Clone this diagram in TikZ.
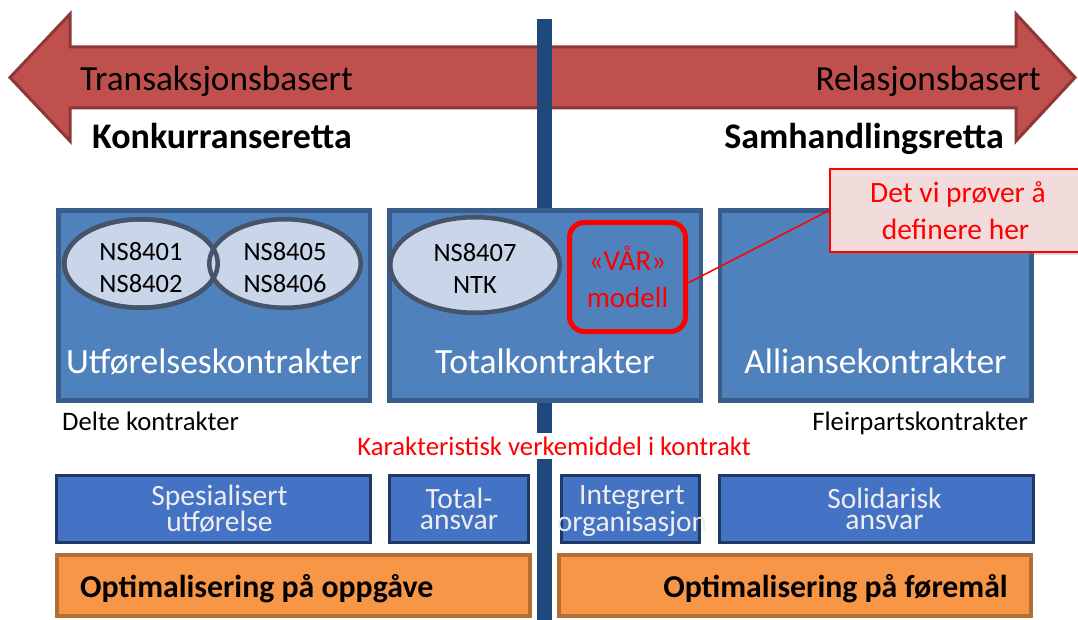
\documentclass[tikz,border=0pt]{standalone}
\usepackage{fontspec}
\setmainfont{Carlito}
\usetikzlibrary{shapes.geometric,calc,shadows}
\definecolor{arrowfill}{HTML}{C0504D}
\definecolor{arrowline}{HTML}{8C3836}
\definecolor{barcol}{HTML}{1F497D}
\definecolor{boxfill}{HTML}{4F81BD}
\definecolor{boxline}{HTML}{385D8A}
\definecolor{ellfill}{HTML}{C9D5E8}
\definecolor{ellline}{HTML}{46546A}
\definecolor{vred}{HTML}{FF0000}
\definecolor{callfill}{HTML}{F2DCDB}
\definecolor{smallfill}{HTML}{4472C4}
\definecolor{smallline}{HTML}{1F3864}
\definecolor{smalltext}{HTML}{EEEEEE}
\definecolor{orfill}{HTML}{F79646}
\definecolor{orline}{HTML}{B66D31}
\newcommand\fsz[2]{\fontsize{#1pt}{#2pt}\selectfont}
\begin{document}
\begin{tikzpicture}[x=1pt,y=-1pt,
  bigbox/.style={draw=boxline,fill=boxfill,line width=4.5pt,minimum width=311.5pt,minimum height=189.5pt,inner sep=0pt},
  title/.style={text=white,font=\fsz{35.5}{42},inner sep=0pt},
  ell/.style={ellipse,draw=ellline,fill=ellfill,line width=4.5pt,inner sep=0pt},
  elltext/.style={align=center,font=\fsz{26.5}{32},inner sep=0pt},
  smallbox/.style={draw=smallline,fill=smallfill,line width=3pt,minimum height=67pt,inner sep=0pt,align=center,text=smalltext,font=\fsz{29.5}{21}},
  orbox/.style={draw=orline,fill=orfill,line width=4pt,minimum height=61pt,minimum width=472pt,inner sep=0pt},
  ortext/.style={font=\bfseries\fsz{31.8}{38},inner sep=0pt},
  arrtext/.style={font=\fsz{35.3}{42},inner sep=0pt},
  sidetext/.style={font=\bfseries\fsz{36}{42},inner sep=0pt},
  note/.style={font=\fsz{26.7}{30},inner sep=0pt}
]
\useasboundingbox (0,0) rectangle (1078,620);
% double arrow
\draw[line width=3pt,draw=arrowline,fill=arrowfill,line join=miter]
  (10,77.5) -- (70,14) -- (70,47) -- (1016,47) -- (1016,14) -- (1075,77.5)
  -- (1016,141) -- (1016,108) -- (70,108) -- (70,141) -- cycle;
% vertical bar
\fill[barcol] (537,19) rectangle (552,620);
\node[arrtext,anchor=base west] (trans) at (80,91) {Transaksjonsbasert};
\node[arrtext,anchor=base east] (rel) at (1041,91) {Relasjonsbasert};
\node[sidetext,anchor=base west] (konk) at (92,149) {Konkurranseretta};
\node[sidetext,anchor=base east] (samh) at (1004,149) {Samhandlingsretta};
% big boxes
\node[bigbox] (b1) at (214,305.5) {};
\node[bigbox] (b2) at (545,305.5) {};
\node[bigbox] (b3) at (875.5,305.5) {};
\node[title,anchor=base] (t1) at (214,373) {Utførelseskontrakter};
\node[title,anchor=base] (t2) at (545,373) {Totalkontrakter};
\node[title,anchor=base] (t3) at (875.5,373) {Alliansekontrakter};
% ellipses
\node[ell,minimum width=153.5pt,minimum height=88.5pt] (e1) at (141,263.5) {};
\node[ell,minimum width=151.5pt,minimum height=88.5pt] (e2) at (285,263.5) {};
\draw[ellline,line width=4.5pt] (e1.center) ellipse [x radius=76.75,y radius=44.25];
\node[ell,minimum width=169.5pt,minimum height=95.5pt] (e3) at (475,265) {};
\node[elltext] (e1t) at (141,268) {NS8401\\NS8402};
\node[elltext] (e2t) at (285,268) {NS8405\\NS8406};
\node[elltext] (e3t) at (475,268) {NS8407\\NTK};
% VAR modell
\node[draw=vred,line width=5pt,rounded corners=15pt,minimum width=116pt,minimum height=109pt,
  inner sep=0pt,align=center,text=vred,font=\fsz{29}{37}] (vaar) at (627.5,277) {«VÅR»\\modell};
% callout
\node[draw=vred,fill=callfill,line width=2pt,minimum width=251pt,minimum height=83pt,inner sep=0pt,
  align=center,text=vred,font=\fsz{29.5}{37},
  drop shadow={opacity=0.3,shadow xshift=2pt,shadow yshift=-3pt}] (call) at (955.5,210.5)
  {\hspace*{5pt}Det vi prøver å\\definere her};
\draw[vred,line width=1.5pt] (call.west) -- ($(vaar.east)+(0,6)$);
% notes
\node[note,anchor=base west] (delte) at (62,430) {Delte kontrakter};
\node[note,anchor=base east] (fleir) at (1028,430) {Fleirpartskontrakter};
\node[note,text=vred,fill=white,inner sep=4pt] (kar) at (554,446) {Karakteristisk verkemiddel i kontrakt};
% small boxes
\node[smallbox,minimum width=314pt] (sA) at (213.5,509) {\hspace*{12pt}Spesialisert\\\hspace*{12pt}utførelse};
\node[smallbox,minimum width=139pt] (sB) at (459,509) {Total-\\ansvar};
\node[smallbox,minimum width=138pt] (sC) at (630.5,509) {};
\node[align=center,text=smalltext,font=\fsz{29.5}{21},inner sep=0pt] (sCt) at (632,511) {Integrert\\organisasjon};
\node[smallbox,minimum width=314pt] (sD) at (876.5,509) {\hspace*{16pt}Solidarisk\\\hspace*{16pt}ansvar};
% orange boxes
\node[orbox,minimum width=473pt] (o1) at (293.5,585.5) {};
\node[orbox] (o2) at (795,585.5) {};
\node[ortext,anchor=base west] (o1t) at (80,597) {Optimalisering på oppgåve};
\node[ortext,anchor=base east] (o2t) at (1008,597) {Optimalisering på føremål};
\end{tikzpicture}
\end{document}
